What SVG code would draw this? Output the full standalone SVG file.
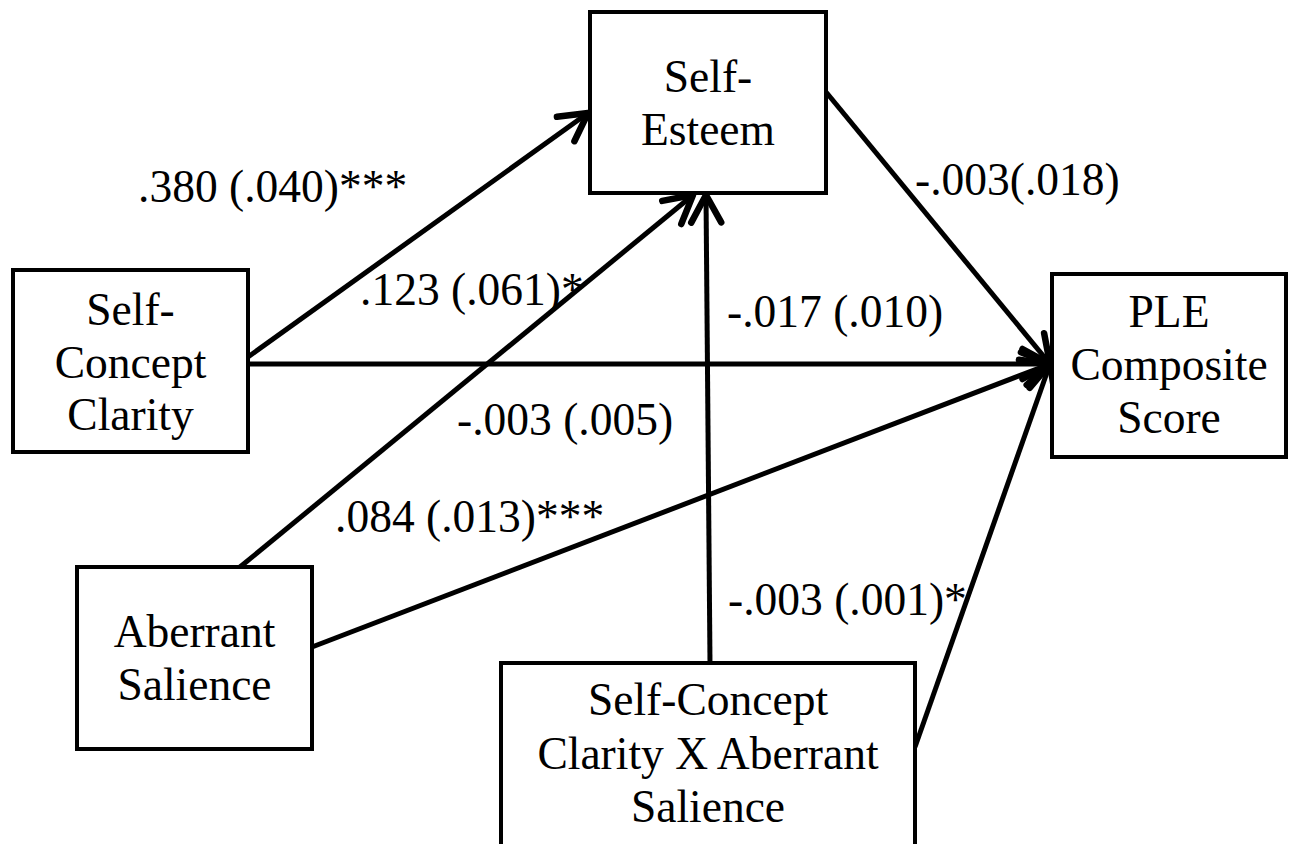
<svg xmlns="http://www.w3.org/2000/svg" width="1290" height="844" viewBox="0 0 1290 844">
<style>
.box{fill:#fff;stroke:#000;stroke-width:4}
text{font-family:'Liberation Serif','Times New Roman',Times,serif;font-size:45.5px;fill:#000}
.c{text-anchor:middle}
.ln{stroke:#000;stroke-width:5;fill:none;marker-end:url(#ah)}
</style>
<defs>
<marker id="ah" markerWidth="8" markerHeight="8" refX="6.5" refY="4" orient="auto" markerUnits="strokeWidth" viewBox="0 0 8 8">
<path d="M1,1 L6.5,4 L1,7" fill="none" stroke="#000" stroke-width="1.3" stroke-linecap="round" stroke-linejoin="round"/>
</marker>
</defs>
<rect width="1290" height="844" fill="#fff"/>
<g id="connectors">
<line class="ln" x1="248" y1="357" x2="588" y2="113"/>
<line class="ln" x1="248" y1="364" x2="1050" y2="364"/>
<line class="ln" x1="240" y1="567" x2="693" y2="195"/>
<line class="ln" x1="312" y1="647" x2="1050" y2="364"/>
<line class="ln" x1="710" y1="663" x2="706" y2="195"/>
<line class="ln" x1="915" y1="747" x2="1050" y2="364"/>
<line class="ln" x1="826" y1="92" x2="1050" y2="364"/>
</g>
<g id="node-self-esteem" font-family="Liberation Serif, serif">
<rect class="box" x="590" y="12" width="236" height="181"/>
<text class="c" x="708" y="92">Self-</text>
<text class="c" x="708" y="145">Esteem</text>
</g>
<g id="node-scc" font-family="Liberation Serif, serif">
<rect class="box" x="13" y="270" width="235" height="182"/>
<text class="c" x="130.5" y="325">Self-</text>
<text class="c" x="130.5" y="378">Concept</text>
<text class="c" x="130.5" y="430">Clarity</text>
</g>
<g id="node-ple" font-family="Liberation Serif, serif">
<rect class="box" x="1052" y="274" width="234" height="183"/>
<text class="c" x="1169" y="327">PLE</text>
<text class="c" x="1169" y="380">Composite</text>
<text class="c" x="1169" y="433">Score</text>
</g>
<g id="node-aberrant" font-family="Liberation Serif, serif">
<rect class="box" x="77" y="567" width="235" height="182"/>
<text class="c" x="194.5" y="647">Aberrant</text>
<text class="c" x="194.5" y="700">Salience</text>
</g>
<g id="node-interaction" font-family="Liberation Serif, serif">
<rect class="box" x="501" y="663" width="414" height="185"/>
<text class="c" x="708" y="715">Self-Concept</text>
<text class="c" x="708" y="769">Clarity X Aberrant</text>
<text class="c" x="708" y="822">Salience</text>
</g>
<g id="labels" font-family="Liberation Serif, serif">
<text x="138" y="202">.380 (.040)***</text>
<text x="360" y="305">.123 (.061)*</text>
<text x="727" y="327">-.017 (.010)</text>
<text x="457" y="435">-.003 (.005)</text>
<text x="335" y="532">.084 (.013)***</text>
<text x="728" y="615">-.003 (.001)*</text>
<text x="915" y="195">-.003(.018)</text>
</g>
</svg>
